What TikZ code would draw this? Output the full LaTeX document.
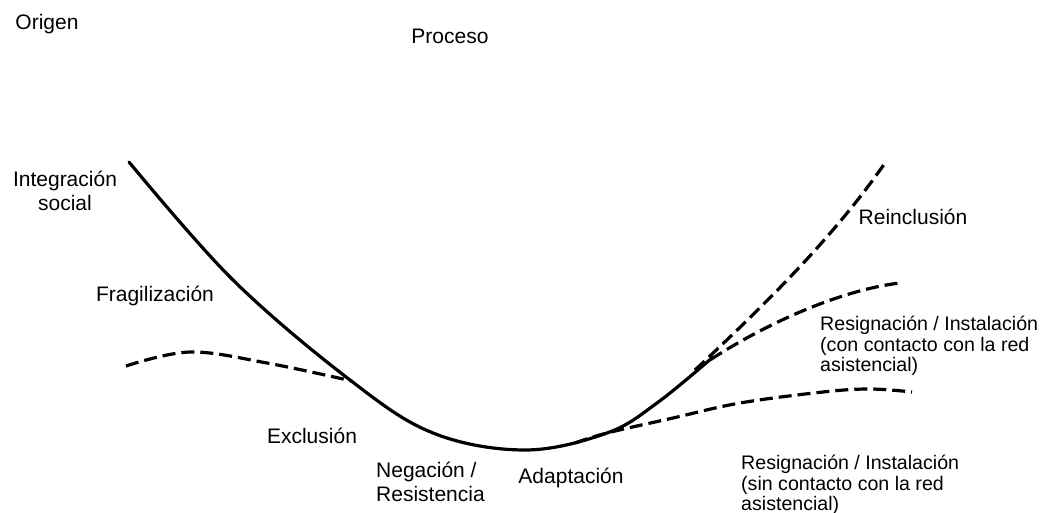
\documentclass[tikz,border=0pt]{standalone}
\usepackage{fontspec}
\setmainfont{Liberation Sans}
\begin{document}
\begin{tikzpicture}[x=1pt,y=-1pt,
  lbl/.style={inner sep=0pt,font=\fontsize{21}{24}\selectfont},
  lbls/.style={inner sep=0pt,align=left,font=\fontsize{19.6}{20.6}\selectfont},
  solidcurve/.style={line width=3.2pt,line cap=round},
  dashcurve/.style={line width=3.2pt,dash pattern=on 13pt off 6pt}]
\useasboundingbox (0,0) rectangle (1040,513);
% texts
\node[lbl] (origen) at (47,24) {Origen};
\node[lbl] (proceso) at (450,36) {Proceso};
\node[lbl,align=center] (integ) at (65,191) {Integración\\social};
\node[lbl] (frag) at (155,296) {Fragilización};
\node[lbl] (excl) at (312,436) {Exclusión};
\node[lbl,align=left,anchor=west] (neg) at (376,482) {Negación /\\Resistencia};
\node[lbl] (adap) at (571,478) {Adaptación};
\node[lbl] (reinc) at (913,217) {Reinclusión};
\node[lbls,anchor=west] (rescon) at (820,346) {Resignación / Instalación\\(con contacto con la red\\asistencial)};
\node[lbls,anchor=west] (ressin) at (741,485) {Resignación / Instalación\\(sin contacto con la red\\asistencial)};
% curves
\draw[dashcurve] plot[smooth,tension=0.6] coordinates {(126,366) (190,352) (267,363) (352,381)};
\draw[dashcurve] plot[smooth,tension=0.6] coordinates {(575,443) (607,433) (673,418) (740,403) (823,392) (870,389) (912,392)};
\draw[dashcurve] (695,370) .. controls (760,325) and (840,290) .. (900,283);
\draw[dashcurve] (695,370) .. controls (770,300) and (835,235) .. (885,163);
\draw[solidcurve] plot[smooth,tension=0.6] coordinates {(129,162) (233,280) (350,380) (433,433) (525,450) (607,433) (657,403) (713,357)};
\end{tikzpicture}
\end{document}
